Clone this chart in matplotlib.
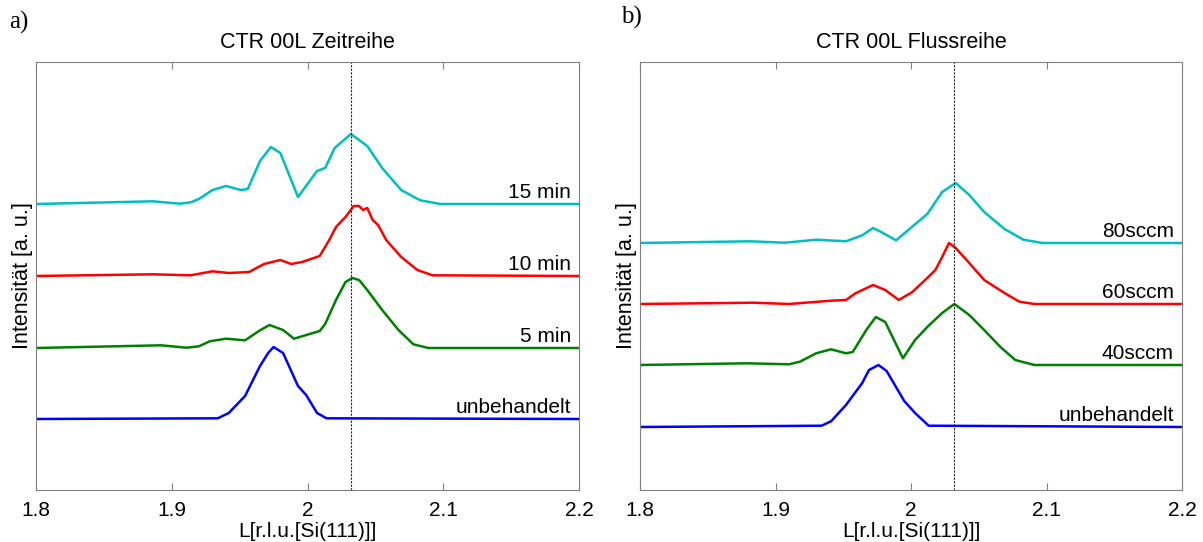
import matplotlib.pyplot as plt
import numpy as np

# ---- panel a: CTR 00L Zeitreihe (L, intensity above own baseline) ----
a_unb_L = [1.80, 1.934, 1.942, 1.954, 1.965, 1.971, 1.975, 1.982, 1.993, 1.999, 2.007, 2.014, 2.20]
a_unb_I = [0, 0.7, 6, 23, 53, 66, 72, 66, 33, 24, 6, 0.7, 0]

a_5_L = [1.80, 1.892, 1.911, 1.920, 1.928, 1.940, 1.954, 1.965, 1.972, 1.982, 1.990, 2.009, 2.013,
         2.021, 2.028, 2.033, 2.038, 2.044, 2.055, 2.067, 2.078, 2.089, 2.20]
a_5_I = [0, 2.7, 0.3, 1.7, 6.7, 9.3, 7.7, 17.7, 23, 18, 9.3, 17, 24,
         48, 66, 70, 68, 58, 38, 18, 3.7, 0, 0]

a_10_L = [1.80, 1.886, 1.914, 1.930, 1.942, 1.957, 1.968, 1.980, 1.988, 1.996, 2.009, 2.016, 2.021,
          2.028, 2.034, 2.038, 2.041, 2.044, 2.048, 2.052, 2.058, 2.069, 2.081, 2.092, 2.20]
a_10_I = [0, 1.7, 0.7, 4.7, 3, 4, 12, 16, 12, 14, 20, 36, 49,
          59, 70, 70, 66, 68, 56, 51, 36, 19, 6, 0.7, 0]

a_15_L = [1.80, 1.886, 1.906, 1.914, 1.920, 1.930, 1.940, 1.951, 1.956, 1.965, 1.973, 1.980, 1.993,
          2.007, 2.013, 2.020, 2.032, 2.044, 2.055, 2.069, 2.083, 2.098, 2.20]
a_15_I = [0, 2.7, 0.3, 1.7, 5, 14, 18, 14, 15, 43, 57, 51, 7,
          33, 36, 56, 70, 58, 36, 14, 3.7, 0, 0]

a_offsets = [71, 142, 214, 286]
a_labels = ["unbehandelt", "5 min", "10 min", "15 min"]

# ---- panel b: CTR 00L Flussreihe ----
b_unb_L = [1.80, 1.934, 1.941, 1.952, 1.964, 1.969, 1.976, 1.982, 1.995, 2.003, 2.013, 2.20]
b_unb_I = [0, 1.3, 5.7, 22, 44, 57, 62, 56, 26, 14, 1.3, 0]

b_40_L = [1.80, 1.879, 1.910, 1.918, 1.930, 1.941, 1.952, 1.957, 1.967, 1.974, 1.981, 1.994,
          2.003, 2.012, 2.023, 2.032, 2.043, 2.054, 2.066, 2.077, 2.091, 2.20]
b_40_I = [0, 1.7, 0.7, 3.3, 11.7, 15.7, 11.7, 13, 35, 48, 43, 6.7,
          25, 38, 52, 61, 50, 35, 18, 5, 0, 0]

b_60_L = [1.80, 1.884, 1.910, 1.941, 1.952, 1.959, 1.972, 1.981, 1.991, 2.001, 2.012, 2.018,
          2.023, 2.028, 2.033, 2.043, 2.054, 2.069, 2.080, 2.091, 2.20]
b_60_I = [0, 1.3, 0, 3.3, 4, 10.7, 19, 14, 4, 12, 26, 34,
          47, 61, 56, 41, 24, 11, 2.3, 0, 0]

b_80_L = [1.80, 1.881, 1.907, 1.930, 1.952, 1.964, 1.972, 1.978, 1.989, 1.998, 2.012, 2.023,
          2.033, 2.043, 2.054, 2.069, 2.083, 2.097, 2.20]
b_80_I = [0, 1.7, 0.3, 3.3, 1.7, 7.7, 15, 11, 2.7, 13, 29, 51,
          60, 48, 31, 14, 3.3, 0, 0]

b_offsets = [63, 125, 186, 247]
b_labels = ["unbehandelt", "40sccm", "60sccm", "80sccm"]

colors = ["#0000FF", "#008000", "#FF0000", "#00BFBF"]
ref_L = 2.032
xticks = [1.8, 1.9, 2.0, 2.1, 2.2]
xticklabels = ["1.8", "1.9", "2", "2.1", "2.2"]

plt.rcParams["font.family"] = ["Liberation Sans", "DejaVu Sans"]

fig = plt.figure(figsize=(12.03, 5.42), dpi=100)
W, H = 1203, 542
# axes box in pixels: top 62, bottom 490
ax_a = fig.add_axes([36 / W, 52 / H, 543 / W, 428 / H])
ax_b = fig.add_axes([640 / W, 52 / H, 542 / W, 428 / H])

panels = [
    (ax_a, [(a_unb_L, a_unb_I), (a_5_L, a_5_I), (a_10_L, a_10_I), (a_15_L, a_15_I)],
     a_offsets, a_labels, "CTR 00L Zeitreihe"),
    (ax_b, [(b_unb_L, b_unb_I), (b_40_L, b_40_I), (b_60_L, b_60_I), (b_80_L, b_80_I)],
     b_offsets, b_labels, "CTR 00L Flussreihe"),
]

for ax, curves, offsets, labels, title in panels:
    for (L, I), off, lab, col in zip(curves, offsets, labels, colors):
        ax.plot(L, np.array(I) + off, color=col, linewidth=1.8)
        ax.text(2.194, off + 6, lab, ha="right", va="baseline", fontsize=15)
    ax.axvline(ref_L, color="0.15", linestyle=(0, (2, 1.2)), linewidth=0.8)
    ax.set_xlim(1.8, 2.2)
    ax.set_ylim(0, 428)
    ax.set_xticks(xticks)
    ax.set_xticklabels(xticklabels, fontsize=15)
    ax.set_yticks([])
    ax.tick_params(axis="x", direction="in", top=True, length=5, color="0.5", pad=8)
    for s in ax.spines.values():
        s.set_color("0.5")
    ax.set_xlabel("L[r.l.u.[Si(111)]]", fontsize=15, labelpad=1.2)
    ax.set_ylabel("Intensität [a. u.]", fontsize=15.5, labelpad=2.5)
    ax.set_title(title, fontsize=15.5, pad=10)

fig.text(9 / W, 1 - 22 / H, "a)", fontsize=18, family="Liberation Serif", va="center")
fig.text(621 / W, 1 - 17 / H, "b)", fontsize=18, family="Liberation Serif", va="center")

fig.savefig("out.png", dpi=100)
